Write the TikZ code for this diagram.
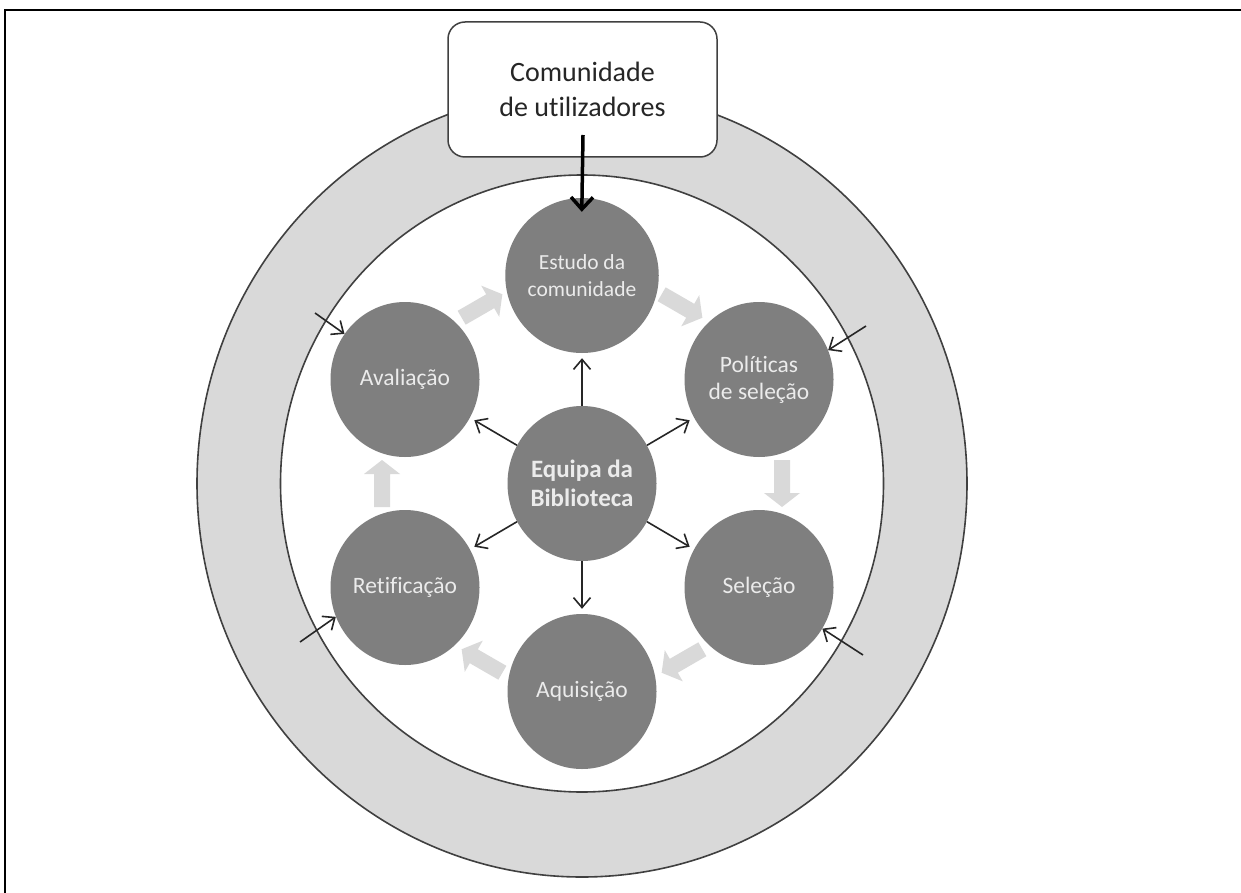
\documentclass[tikz,border=0pt]{standalone}
\usepackage{fontspec}
\setmainfont{Carlito}[Ligatures=NoCommon]
\usetikzlibrary{arrows.meta,shapes.geometric}
\definecolor{ringgray}{HTML}{D9D9D9}
\definecolor{nodegray}{HTML}{7F7F7F}
\definecolor{linegray}{HTML}{404040}
\definecolor{txtlight}{HTML}{EBEBEB}
\definecolor{blkarrow}{HTML}{D9D9D9}
\newcommand{\cycarrow}[3]{%
  \fill[blkarrow, shift={(#1,#2)}, rotate=#3]
    (-23.5,-8) -- (9.5,-8) -- (9.5,-18) -- (23.5,0) -- (9.5,18) -- (9.5,8) -- (-23.5,8) -- cycle;}
\tikzset{
  circnode/.style={ellipse, fill=nodegray, minimum width=149pt, minimum height=155pt,
    inner sep=0pt, text=txtlight, align=center, font=\fontsize{23.5}{27}\selectfont},
  boxnode/.style={draw=linegray, line width=1.5pt, fill=white, rounded corners=17pt,
    minimum width=269pt, minimum height=135pt, align=center, text=black!85,
    font=\fontsize{28}{35}\selectfont},
  ringline/.style={draw=linegray, line width=1.6pt},
  tharrow/.style={draw=black!85, line width=1.6pt, -{Straight Barb[length=10pt,width=17pt,line width=1.6pt]}},
  bigarrow/.style={draw=black, line width=3.5pt, -{Straight Barb[length=12pt,width=22pt]}},
  frameline/.style={draw=black, line width=2.5pt}
}
\begin{document}
\begin{tikzpicture}[x=1pt, y=-1pt]
\useasboundingbox (0,0) rectangle (1241,893);
\fill[white] (0,0) rectangle (1241,893);
\draw[frameline] (5,893) -- (5,10) -- (1241,10);
% ring
\filldraw[fill=ringgray, ringline] (582,483.5) ellipse [x radius=385pt, y radius=393.5pt];
\filldraw[fill=white, ringline] (582,483.5) ellipse [x radius=301.5pt, y radius=308.5pt];
% community box
\node[boxnode] (com) at (582.5,89.5) {Comunidade\\de utilizadores};
% cycle arrows
\cycarrow{682}{306}{-30}
\cycarrow{782}{483.5}{-90}
\cycarrow{682}{661}{210}
\cycarrow{482}{661}{150}
\cycarrow{382}{483.5}{90}
\cycarrow{482}{306}{30}
% nodes
\node[circnode, font=\fontsize{21.5}{27}\selectfont] (est) at (582,275.5) {Estudo da\\comunidade};
\node[circnode] (pol) at (759,379.5) {Políticas\\de seleção};
\node[circnode] (sel) at (759,587.5) {Seleção};
\node[circnode] (aq) at (582,691.5) {Aquisição};
\node[circnode] (ret) at (405,587.5) {Retificação};
\node[circnode] (aval) at (405,379.5) {Avaliação};
\node[circnode, font=\bfseries\fontsize{25}{29}\selectfont] (eq) at (582,483.5) {Equipa da\\Biblioteca};
% arrows from team
\foreach \n in {est,pol,sel,aq,ret,aval}
  \draw[tharrow, shorten >=5pt] (eq) -- (\n);
% arrow from community
\coordinate (cs) at (583,135);
\draw[bigarrow, shorten >=-14pt] (cs) -- (est.north);
% outer incoming arrows
\coordinate (c1) at (315,313);
\coordinate (c2) at (866,326);
\coordinate (c3) at (300,642);
\coordinate (c4) at (863,655);
\draw[tharrow] (c1) -- (aval.143);
\draw[tharrow] (c2) -- (pol.23);
\draw[tharrow] (c3) -- (ret.203);
\draw[tharrow] (c4) -- (sel.327);
\end{tikzpicture}
\end{document}
